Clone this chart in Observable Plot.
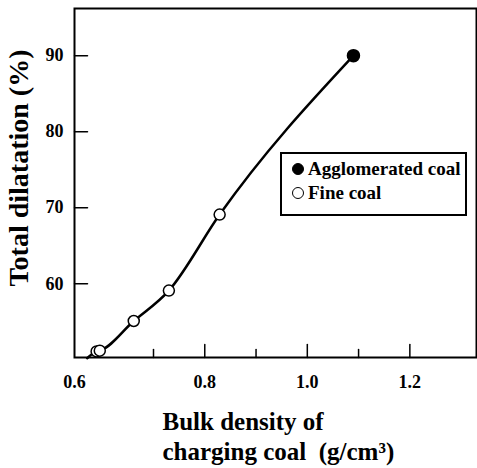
<!DOCTYPE html>
<html><head><meta charset="utf-8">
<script src="https://cdn.jsdelivr.net/npm/d3@7"></script>
<script src="https://cdn.jsdelivr.net/npm/@observablehq/plot@0.6"></script>
<style>
body{margin:0;background:#fff;}
#wrap{position:relative;width:477px;height:468px;font-family:"Liberation Serif","Times New Roman",Tinos,"DejaVu Serif",serif;}
#wrap svg text{font-family:"Liberation Serif","Times New Roman",Tinos,"DejaVu Serif",serif !important;}
#legend{position:absolute;left:280px;top:152px;width:183px;height:60px;border:2px solid #000;background:#fff;font-weight:bold;font-size:19px;color:#000;}
#legend .mk{position:absolute;width:10px;height:10px;border-radius:50%;border:1.5px solid #000;}
#legend .lb{position:absolute;left:26px;line-height:24px;white-space:nowrap;}
</style></head><body><div id="wrap"></div>
<script>
const seriesNames = ["Agglomerated coal", "Fine coal"];
const fineDensity = [0.628, 0.632, 0.675, 0.730, 0.829];
const fineDilatation = [51.1, 51.2, 55.1, 59.1, 69.1];
const aggDensity = [1.090];
const aggDilatation = [90.0];
const curveDensity = [0.616, 0.628, 0.632, 0.675, 0.730, 0.829, 1.090];
const curveDilatation = [50.2, 51.1, 51.2, 55.1, 59.1, 69.1, 90.0];
const xTickLabels = [0.6, 0.8, 1.0, 1.2];
const xMajorTicks = [0.8, 1.0, 1.2];
const xMinorTicks = [0.7, 0.9, 1.1];
const yTicks = [60, 70, 80, 90];
const xTitle = "Bulk density of\ncharging coal\u00a0 (g/cm\u00b3)";
const yTitle = "Total dilatation (%)";

const fine = fineDensity.map((x, i) => ({x, y: fineDilatation[i]}));
const agg = aggDensity.map((x, i) => ({x, y: aggDilatation[i]}));
const curve = curveDensity.map((x, i) => ({x, y: curveDilatation[i]}));
const tickShape = {draw(ctx, l) { ctx.moveTo(0, 0); ctx.lineTo(0, -l); }};
const serif = "'Liberation Serif', 'Times New Roman', Tinos, 'DejaVu Serif', serif";

const chart = Plot.plot({
  width: 477, height: 468,
  marginLeft: 74, marginRight: 1, marginTop: 8, marginBottom: 111,
  x: {type: "linear", domain: [0.6, 0.7, 1.33], range: [74, 153, 476]},
  y: {domain: [50.3, 96.2]},
  style: {fontFamily: serif, fontWeight: "bold", color: "#000", background: "#fff"},
  marks: [
    Plot.axisX(xTickLabels, {tickSize: 0, tickPadding: 18, tickFormat: d3.format(".1f"), fontSize: 18, fontWeight: "bold", label: null}),
    Plot.axisY(yTicks, {tickSize: 0, tickPadding: 11, fontSize: 18, fontWeight: "bold", label: null}),
    Plot.vectorX(xMajorTicks, {x: d => d, frameAnchor: "bottom", length: 13, anchor: "start", shape: tickShape, stroke: "#000", strokeWidth: 1.5}),
    Plot.vectorX(xMinorTicks, {x: d => d, frameAnchor: "bottom", length: 8, anchor: "start", shape: tickShape, stroke: "#000", strokeWidth: 1.5}),
    Plot.vectorY(yTicks, {y: d => d, frameAnchor: "left", rotate: 90, length: 13, anchor: "start", shape: tickShape, stroke: "#000", strokeWidth: 1.5}),
    Plot.line(curve, {x: "x", y: "y", curve: "monotone-x", stroke: "#000", strokeWidth: 2.5}),
    Plot.dot(fine, {x: "x", y: "y", r: 5.5, fill: "#fff", stroke: "#000", strokeWidth: 1.5}),
    Plot.dot(agg, {x: "x", y: "y", r: 6, fill: "#000", stroke: "#000"}),
    Plot.frame({stroke: "#000", strokeWidth: 2}),
    Plot.text([yTitle], {text: d => d, frameAnchor: "left", rotate: -90, dx: -55, dy: -15, fontSize: 28, fontWeight: "bold", textAnchor: "middle"}),
    Plot.text([xTitle], {text: d => d, frameAnchor: "bottom-left", dx: 88, dy: 51, textAnchor: "start", lineAnchor: "top", lineHeight: 1.2, fontSize: 25, fontWeight: "bold"})
  ]
});
const wrap = document.getElementById("wrap");
wrap.appendChild(chart);

const legend = document.createElement("div");
legend.id = "legend";
seriesNames.forEach((name, i) => {
  const mk = document.createElement("span");
  mk.className = "mk";
  mk.style.left = "10px";
  mk.style.top = (9 + i * 24) + "px";
  mk.style.background = i === 0 ? "#000" : "#fff";
  legend.appendChild(mk);
  const lb = document.createElement("span");
  lb.className = "lb";
  lb.style.top = (3 + i * 24) + "px";
  lb.textContent = name;
  legend.appendChild(lb);
});
wrap.appendChild(legend);
</script></body></html>
